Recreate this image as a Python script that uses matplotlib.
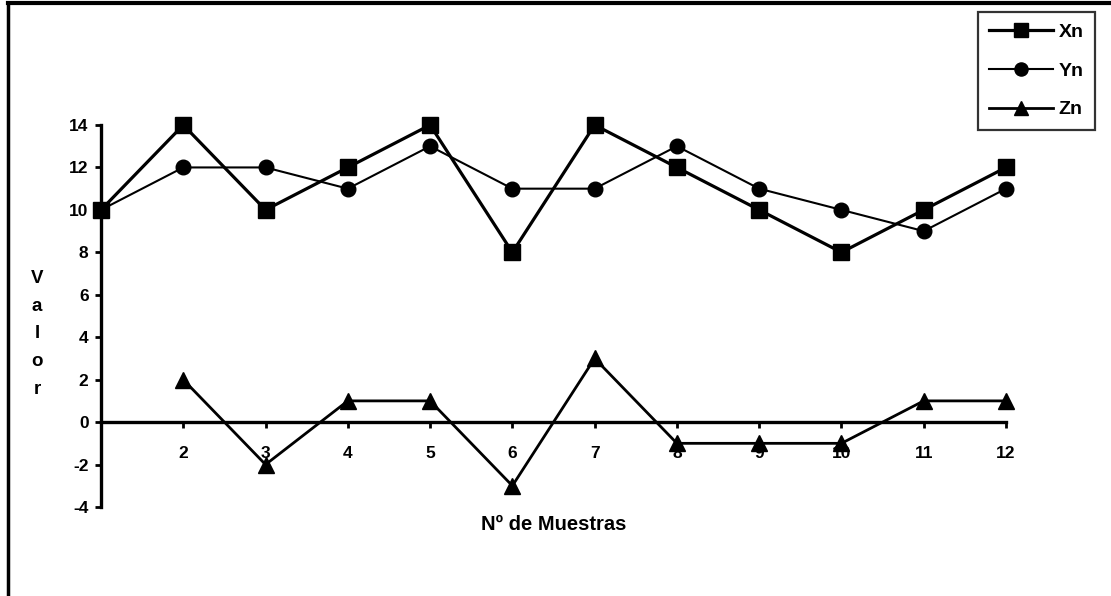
import numpy as np
import matplotlib
matplotlib.use("Agg")
import matplotlib.pyplot as plt
from matplotlib.lines import Line2D

plt.rcParams['font.family'] = ['Liberation Sans', 'DejaVu Sans']
plt.rcParams['font.weight'] = 'bold'
plt.rcParams['axes.unicode_minus'] = False

muestras = [1, 2, 3, 4, 5, 6, 7, 8, 9, 10, 11, 12]
xn = [10, 14, 10, 12, 14, 8, 14, 12, 10, 8, 10, 12]
yn = [10, 12, 12, 11, 13, 11, 11, 13, 11, 10, 9, 11]
zn = [np.nan, 2, -2, 1, 1, -3, 3, -1, -1, -1, 1, 1]
y_ticks = [-4, -2, 0, 2, 4, 6, 8, 10, 12, 14]
x_ticks = [2, 3, 4, 5, 6, 7, 8, 9, 10, 11, 12]

W, H = 1111, 596
fig = plt.figure(figsize=(W / 100, H / 100), dpi=100)
ax = fig.add_axes([101 / W, 1 - 507 / H, (1006 - 101) / W, (507 - 125) / H])

ax.plot(muestras, xn, color='black', lw=2.3, marker='s', ms=11, label='Xn', clip_on=False, zorder=4)
ax.plot(muestras, yn, color='black', lw=1.5, marker='o', ms=10.5, label='Yn', clip_on=False, zorder=4)
ax.plot(muestras, zn, color='black', lw=2.0, marker='^', ms=11, label='Zn', clip_on=False, zorder=4)

ax.set_xlim(1, 12)
ax.set_ylim(-4, 14)
ax.spines['top'].set_visible(False)
ax.spines['right'].set_visible(False)
ax.spines['bottom'].set_position(('data', 0))
ax.spines['left'].set_linewidth(2.4)
ax.spines['bottom'].set_linewidth(2.4)
ax.set_xticks(x_ticks)
ax.set_yticks(y_ticks)
ax.tick_params(axis='both', direction='out', length=4, width=2, labelsize=12.5, colors='black')
ax.tick_params(axis='x', pad=13)
ax.tick_params(axis='y', pad=5)
for lab in ax.get_xticklabels() + ax.get_yticklabels():
    lab.set_fontweight('bold')

ax.set_xlabel('Nº de Muestras', fontsize=14.5, fontweight='bold')
ax.xaxis.set_label_coords(0.5, -0.02)

fig.text(37 / W, 1 - 334 / H, "V\na\nl\no\nr", ha='center', va='center',
         fontsize=13.5, fontweight='bold', linespacing=1.82)

leg = ax.legend(loc='upper right', bbox_to_anchor=(1095 / W, 1 - 12 / H),
                bbox_transform=fig.transFigure, frameon=True, fancybox=False,
                fontsize=14, handlelength=3.3, labelspacing=1.08,
                borderpad=0.6, handletextpad=0.25, borderaxespad=0, markerscale=0.9)
leg.get_frame().set_edgecolor('black')
leg.get_frame().set_linewidth(1.6)
for t in leg.get_texts():
    t.set_fontweight('bold')

# outer frame
fig.add_artist(Line2D([8 / W, 8 / W], [0, 1 - 3 / H], transform=fig.transFigure, color='black', lw=2.5))
fig.add_artist(Line2D([8 / W, 1], [1 - 3 / H, 1 - 3 / H], transform=fig.transFigure, color='black', lw=3))

fig.savefig('out.png', dpi=100)
